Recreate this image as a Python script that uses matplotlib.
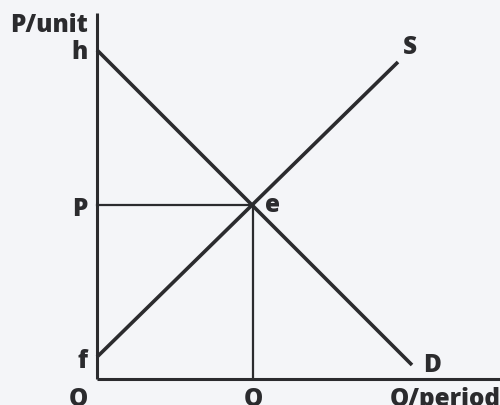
import matplotlib
matplotlib.use("Agg")
import matplotlib.pyplot as plt

# Data (units: 1 unit = 10 px, origin at the axes corner)
demand_x = [0.0, 31.5]
demand_y = [32.9, 1.4]
supply_x = [0.0, 30.1]
supply_y = [2.2, 31.7]
eq_q = 15.6
eq_p = 17.4
axis_top = 36.6
axis_right = 40.3

bg = "#f4f5f8"
ink = "#2b2b2e"

fig = plt.figure(figsize=(5.0, 4.05), dpi=100, facecolor=bg)
ax = fig.add_axes([0, 0, 1, 1], facecolor=bg)
ax.set_xlim(-9.7, 40.3)
ax.set_ylim(-2.6, 37.9)
ax.axis("off")

# axes
ax.plot([0, 0], [0, axis_top], color=ink, lw=2.2, solid_capstyle="butt")
ax.plot([0, axis_right], [0, 0], color=ink, lw=2.2, solid_capstyle="butt")

# curves
ax.plot(demand_x, demand_y, color=ink, lw=2.6, solid_capstyle="butt")
ax.plot(supply_x, supply_y, color=ink, lw=2.6, solid_capstyle="butt")

# guide lines
ax.plot([0, eq_q], [eq_p, eq_p], color=ink, lw=1.6)
ax.plot([eq_q, eq_q], [0, eq_p], color=ink, lw=1.6)

fs = 17.5
kw = dict(color=ink, fontsize=fs, fontweight="heavy", family="Open Sans")
ax.text(-0.9, 35.3, "P/unit", ha="right", va="center", **kw)
ax.text(-0.9, demand_y[0] - 0.2, "h", ha="right", va="center", **kw)
ax.text(-0.9, eq_p - 0.4, "P", ha="right", va="center", **kw)
ax.text(-0.9, supply_y[0] - 0.4, "f", ha="right", va="center", **kw)
ax.text(-0.9, -2.0, "O", ha="right", va="center", **kw)
ax.text(eq_q, -2.0, "Q", ha="center", va="center", **kw)
ax.text(29.3, -2.0, "Q/period", ha="left", va="center", **kw)
ax.text(32.6, 1.4, "D", ha="left", va="center", **kw)
ax.text(30.6, 33.1, "S", ha="left", va="center", **kw)
ax.text(16.8, eq_p + 0.0, "e", ha="left", va="center", **kw)

fig.savefig("out.png", dpi=100, facecolor=bg)
